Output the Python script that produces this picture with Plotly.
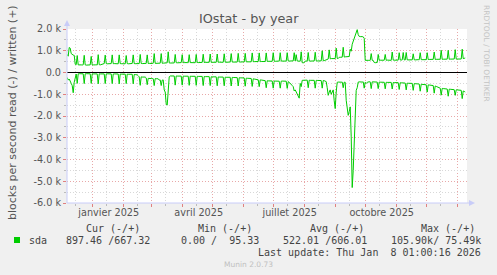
import plotly.graph_objects as go
import pandas as pd

# ---------------- data (daily values, weekly rows Fri..Thu, from 2024-12-06) ----------------
start_day = "2024-12-06 12:00"

written = [
    830, 750, 1150, 1120, 870, 810, 800,
    790, 380, 360, 780, 350, 340, 350,
    350, 345, 355, 790, 350, 340, 345,
    350, 345, 350, 740, 345, 350, 340,
    350, 355, 345, 820, 360, 350, 360,
    400, 405, 410, 800, 410, 400, 405,
    410, 400, 410, 810, 405, 410, 400,
    405, 410, 400, 810, 410, 405, 410,
    410, 405, 400, 780, 410, 400, 410,
    405, 410, 415, 810, 410, 405, 410,
    410, 415, 410, 830, 415, 410, 420,
    415, 410, 420, 810, 415, 420, 410,
    420, 415, 425, 870, 420, 425, 420,
    425, 420, 430, 870, 425, 430, 435,
    440, 430, 445, 950, 440, 435, 440,
    445, 450, 440, 830, 450, 445, 450,
    450, 445, 455, 820, 450, 455, 445,
    450, 455, 450, 820, 455, 450, 460,
    455, 460, 450, 830, 460, 455, 460,
    460, 455, 465, 840, 460, 465, 460,
    465, 460, 470, 850, 465, 470, 465,
    470, 465, 470, 850, 470, 475, 470,
    470, 475, 470, 860, 475, 470, 480,
    475, 480, 475, 870, 480, 475, 480,
    480, 485, 480, 880, 485, 480, 490,
    485, 490, 485, 880, 490, 495, 490,
    490, 495, 490, 900, 495, 500, 495,
    500, 495, 505, 900, 500, 505, 500,
    505, 510, 505, 900, 510, 515, 510,
    515, 520, 515, 910, 520, 515, 525,
    520, 525, 520, 910, 525, 520, 530,
    525, 530, 525, 910, 530, 525, 530,
    530, 525, 535, 910, 530, 820, 530,
    525, 530, 520, 950, 450, 445, 455,
    525, 530, 525, 920, 530, 525, 530,
    530, 535, 530, 930, 535, 530, 540,
    535, 540, 535, 1000, 540, 545, 560,
    580, 600, 620, 1040, 630, 640, 640,
    640, 645, 640, 1120, 650, 645, 700,
    700, 710, 705, 1160, 710, 720, 720,
    730, 740, 735, 1070, 980, 1300, 1420,
    1550, 1640, 1780, 1970, 1740, 1660, 1650,
    1660, 1650, 1640, 1570, 560, 550, 560,
    560, 555, 560, 870, 560, 555, 460,
    450, 440, 460, 830, 560, 565, 560,
    565, 560, 565, 830, 560, 570, 565,
    565, 570, 560, 940, 570, 565, 570,
    570, 575, 570, 910, 575, 570, 580,
    920, 580, 575, 920, 580, 575, 580,
    580, 585, 580, 860, 585, 580, 590,
    585, 590, 585, 910, 590, 585, 595,
    590, 595, 590, 910, 595, 600, 595,
    600, 595, 605, 940, 600, 605, 600,
    605, 600, 610, 1020, 605, 610, 605,
    610, 605, 615, 1020, 610, 615, 610,
    615, 610, 620, 1050, 615, 620, 615,
    620, 625, 620, 1070, 640, 650, 667,
]

read = [
    230, 350, 300, 450, 500, 600, 930,
    450, 180, 70, 500, 60, 55, 60,
    60, 55, 60, 510, 60, 55, 60,
    60, 65, 60, 500, 60, 65, 60,
    60, 60, 65, 520, 60, 65, 60,
    65, 60, 65, 510, 65, 60, 65,
    65, 70, 65, 510, 70, 65, 70,
    70, 65, 70, 520, 70, 75, 70,
    75, 70, 75, 510, 75, 80, 75,
    80, 85, 80, 520, 90, 95, 100,
    110, 150, 200, 590, 200, 210, 200,
    200, 210, 250, 560, 270, 280, 280,
    280, 275, 285, 600, 280, 285, 280,
    290, 350, 340, 600, 350, 340, 800,
    900, 1450, 1500, 600, 200, 160, 165,
    160, 155, 160, 580, 160, 165, 160,
    165, 160, 165, 580, 165, 170, 165,
    170, 165, 170, 590, 170, 175, 170,
    175, 170, 175, 590, 175, 180, 175,
    180, 185, 180, 600, 185, 190, 185,
    190, 195, 190, 600, 195, 200, 195,
    200, 205, 200, 610, 205, 210, 205,
    210, 215, 210, 610, 215, 220, 215,
    220, 225, 220, 620, 225, 230, 225,
    230, 240, 235, 620, 240, 245, 240,
    250, 255, 250, 630, 260, 265, 260,
    270, 280, 275, 640, 290, 300, 310,
    320, 330, 335, 650, 340, 345, 350,
    360, 370, 375, 700, 380, 385, 390,
    390, 385, 390, 720, 390, 395, 390,
    395, 390, 400, 720, 400, 395, 400,
    400, 405, 400, 730, 420, 450, 520,
    560, 600, 650, 850, 800, 900, 1000,
    1050, 1180, 500, 650, 360, 355, 360,
    355, 360, 350, 700, 355, 360, 355,
    360, 355, 360, 720, 360, 365, 360,
    365, 360, 370, 720, 370, 375, 400,
    420, 700, 1050, 900, 800, 1000, 850,
    800, 1300, 1660, 900, 450, 440, 450,
    440, 445, 440, 700, 445, 450, 1280,
    1600, 1970, 1800, 1580, 2960, 5290, 4500,
    3120, 1590, 820, 700, 440, 430, 440,
    435, 440, 430, 720, 450, 500, 450,
    430, 425, 430, 740, 430, 435, 430,
    435, 430, 440, 740, 440, 445, 440,
    445, 440, 450, 750, 450, 455, 450,
    455, 460, 455, 760, 460, 465, 460,
    465, 470, 465, 780, 470, 475, 470,
    480, 475, 485, 800, 490, 495, 490,
    500, 505, 500, 820, 510, 515, 510,
    520, 525, 530, 860, 540, 545, 550,
    555, 560, 565, 900, 570, 575, 580,
    585, 590, 600, 950, 620, 640, 660,
    680, 700, 720, 1040, 730, 740, 745,
    750, 755, 760, 1090, 765, 770, 775,
    780, 785, 790, 1050, 795, 800, 805,
    810, 815, 820, 1200, 850, 870, 897,
]

y_tick_vals = [-6000, -5000, -4000, -3000, -2000, -1000, 0, 1000, 2000]
y_tick_text = ["-6.0 k", "-5.0 k", "-4.0 k", "-3.0 k", "-2.0 k", "-1.0 k", "0.0", "1.0 k", "2.0 k"]

month_starts = ["2025-01-01", "2025-02-01", "2025-03-01", "2025-04-01", "2025-05-01", "2025-06-01",
                "2025-07-01", "2025-08-01", "2025-09-01", "2025-10-01", "2025-11-01", "2025-12-01",
                "2026-01-01"]
mid_months = ["2024-12-15", "2025-01-15", "2025-02-15", "2025-03-15", "2025-04-15", "2025-05-15",
              "2025-06-15", "2025-07-15", "2025-08-15", "2025-09-15", "2025-10-15", "2025-11-15",
              "2025-12-15"]
label_dates = ["2025-01-17", "2025-04-17", "2025-07-17", "2025-10-17"]
label_text = ["janvier 2025", "avril 2025", "juillet 2025", "octobre 2025"]

x_range = ["2024-12-06 07:00", "2026-01-10 07:00"]

legend_headers = ["Cur (-/+)", "Min (-/+)", "Avg (-/+)", "Max (-/+)"]
legend_values = ["897.46 /667.32", "0.00 /  95.33", "522.01 /606.01", "105.90k/ 75.49k"]
series_name = "sda"
last_update = "Last update: Thu Jan  8 01:00:16 2026"

# ---------------- figure ----------------
W, H = 497, 275
ML, MR, MT, MB = 67, 30, 29, 72
PW, PH = W - ML - MR, H - MT - MB

def px(x):
    return (x - ML) / PW

def py(y):
    return (H - MB - y) / PH

dates = pd.date_range(start_day, periods=len(written), freq="D")

GREEN = "#00cc00"
TXT = "#555555"
RED_GRID = "#e8a8a8"
GRAY_GRID = "#d8d8d8"
AXIS = "#c8ccf8"

fig = go.Figure()
fig.add_trace(go.Scatter(x=dates, y=written, mode="lines",
                         line=dict(color=GREEN, width=1), showlegend=False, hoverinfo="skip"))
fig.add_trace(go.Scatter(x=dates, y=[-v for v in read], mode="lines",
                         line=dict(color=GREEN, width=1), showlegend=False, hoverinfo="skip"))
fig.add_trace(go.Scatter(x=[], y=[], xaxis="x2", showlegend=False))

fig.update_layout(
    width=W, height=H, autosize=False,
    margin=dict(l=ML, r=MR, t=MT, b=MB),
    paper_bgcolor="#f0f0f0", plot_bgcolor="#ffffff",
    font=dict(family="DejaVu Sans", size=10, color=TXT),
    xaxis=dict(
        range=x_range, type="date",
        tickmode="array", tickvals=mid_months, showticklabels=False,
        showgrid=True, gridcolor=GRAY_GRID, griddash="1px,2px", gridwidth=1,
        ticks="outside", ticklen=2, tickcolor="#bbbbbb",
        minor=dict(tickmode="array", tickvals=month_starts, showgrid=True,
                   gridcolor=RED_GRID, griddash="1px,2px", gridwidth=1,
                   ticks="outside", ticklen=3, tickcolor="#e08080"),
        showline=False, zeroline=False, fixedrange=True,
    ),
    xaxis2=dict(
        range=x_range, type="date", overlaying="x", anchor="y", side="bottom",
        tickmode="array", tickvals=label_dates, ticktext=label_text,
        showgrid=False, ticks="", showline=False, zeroline=False,
        tickfont=dict(family="DejaVu Sans", size=9.7, color=TXT),
        ticklabelstandoff=2,
    ),
    yaxis=dict(
        range=[-6000, 2000],
        tickmode="array", tickvals=y_tick_vals, ticktext=y_tick_text,
        tickfont=dict(family="DejaVu Sans", size=9.7, color=TXT),
        showgrid=True, gridcolor=RED_GRID, griddash="1px,2px", gridwidth=1,
        ticks="outside", ticklen=3, tickcolor="#e08080",
        minor=dict(dtick=500, showgrid=True, gridcolor=GRAY_GRID, griddash="1px,2px",
                   ticks="outside", ticklen=2, tickcolor="#bbbbbb"),
        zeroline=True, zerolinecolor="#000000", zerolinewidth=1,
        showline=False, fixedrange=True,
    ),
)

shapes = []
# y axis line with arrow
shapes.append(dict(type="line", xref="paper", yref="paper", x0=0, x1=0, y0=0, y1=py(22),
                   line=dict(color=AXIS, width=1)))
shapes.append(dict(type="path", xref="paper", yref="paper",
                   path=f"M {px(64)} {py(26)} L {px(70)} {py(26)} L {px(67)} {py(20)} Z",
                   fillcolor=AXIS, line=dict(width=0)))
# x axis line with arrow
shapes.append(dict(type="line", xref="paper", yref="paper", x0=0, x1=px(472), y0=0, y1=0,
                   line=dict(color=AXIS, width=1)))
shapes.append(dict(type="path", xref="paper", yref="paper",
                   path=f"M {px(469)} {py(200)} L {px(469)} {py(206)} L {px(475)} {py(203)} Z",
                   fillcolor=AXIS, line=dict(width=0)))
# legend colour box
shapes.append(dict(type="rect", xref="paper", yref="paper",
                   x0=px(14), x1=px(20), y0=py(243), y1=py(237),
                   fillcolor=GREEN, line=dict(width=0)))
fig.update_layout(shapes=shapes)

ann = []
ann.append(dict(text="IOstat - by year", xref="paper", yref="paper", x=px(248.5), y=py(19),
                xanchor="center", yanchor="middle", showarrow=False,
                font=dict(family="DejaVu Sans", size=12.8, color=TXT)))
ann.append(dict(text="blocks per second read (-) / written (+)", xref="paper", yref="paper",
                x=px(12), y=py(113), xanchor="center", yanchor="middle", textangle=-90,
                showarrow=False, font=dict(family="DejaVu Sans", size=11, color=TXT)))
ann.append(dict(text="RRDTOOL / TOBI OETIKER", xref="paper", yref="paper",
                x=px(486.5), y=py(53.5), xanchor="center", yanchor="middle", textangle=90,
                showarrow=False, font=dict(family="DejaVu Sans", size=7.5, color="#c4c4c4")))

mono = dict(family="DejaVu Sans Mono", size=10, color="#444444")
for txt, xr in zip(legend_headers, [142, 254, 366, 477]):
    ann.append(dict(text=txt.replace(" ", "&nbsp;"), xref="paper", yref="paper", x=px(xr), y=py(228),
                    xanchor="right", yanchor="middle", showarrow=False, font=mono))
ann.append(dict(text=series_name, xref="paper", yref="paper", x=px(27), y=py(240),
                xanchor="left", yanchor="middle", showarrow=False, font=mono))
for txt, xr in zip(legend_values, [152, 261, 369, 483]):
    ann.append(dict(text=txt.replace(" ", "&nbsp;"), xref="paper", yref="paper", x=px(xr), y=py(240),
                    xanchor="right", yanchor="middle", showarrow=False, font=mono))
ann.append(dict(text=last_update.replace(" ", "&nbsp;"), xref="paper", yref="paper", x=px(483), y=py(252),
                xanchor="right", yanchor="middle", showarrow=False, font=mono))
ann.append(dict(text="Munin 2.0.73", xref="paper", yref="paper", x=px(248), y=py(264),
                xanchor="center", yanchor="middle", showarrow=False,
                font=dict(family="DejaVu Sans", size=7.5, color="#c0c0c0")))
fig.update_layout(annotations=ann)

fig.write_html("out.html")
